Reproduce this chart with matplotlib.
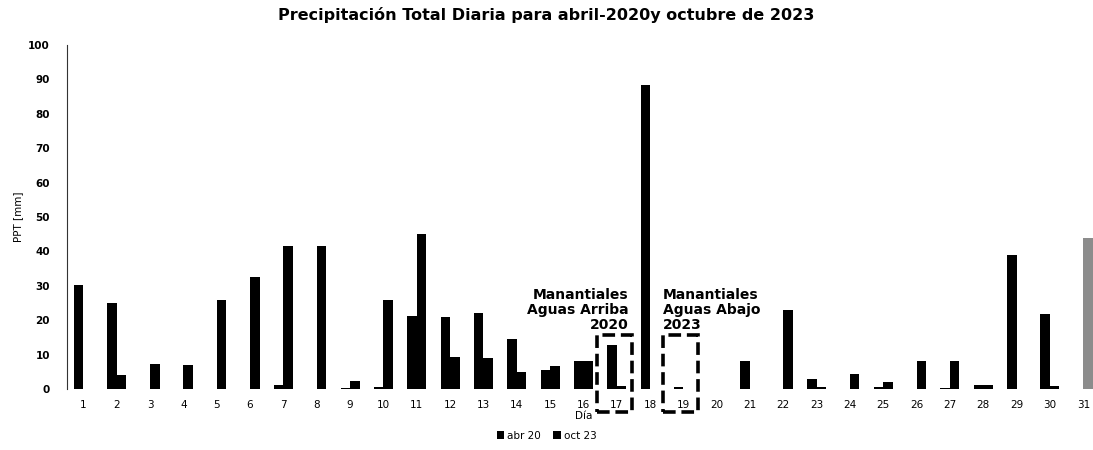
import matplotlib.pyplot as plt
from matplotlib.patches import Rectangle
import numpy as np

# Precipitación diaria (mm), días 1-31
dias = list(range(1, 32))
abr_20 = [30.1, 25.1, 0, 0, 0, 0, 1.1, 0, 0.4, 0.5,
          21.2, 20.9, 22.1, 14.4, 5.5, 8.1, 12.9, 88.5, 0.5, 0,
          8.1, 0, 2.9, 0, 0.7, 0, 0.3, 1.1, 38.9, 21.9, 0]
oct_23 = [0, 4.2, 7.3, 7.0, 25.9, 32.6, 41.5, 41.5, 2.3, 25.9,
          45.0, 9.2, 9.0, 5.0, 6.8, 8.1, 0.8, 0, 0, 0,
          0, 22.9, 0.7, 4.3, 2.1, 8.0, 8.0, 1.1, 0, 1.0, 44.0]
series = ['abr 20', 'oct 23']
yticks = list(range(0, 101, 10))

fig = plt.figure(figsize=(10.93, 4.5), dpi=100)
ax = fig.add_axes([0.061, 0.1356, 0.9454, 0.7644])

x = np.array(dias)
w = 0.285
ax.bar(x - w / 2, abr_20, w, color='black', label=series[0])
colores_oct = ['black'] * 30 + ['#8c8c8c']
ax.bar(x + w / 2, oct_23, w, color=colores_oct, label=series[1])

ax.set_xlim(0.5, 31.5)
ax.set_ylim(0, 100)
ax.set_xticks(dias)
ax.set_xticklabels([str(d) for d in dias], fontsize=7.5)
ax.set_yticks(yticks)
ax.set_yticklabels([str(t) for t in yticks], fontsize=7.5, fontweight='bold')
ax.tick_params(axis='both', length=0)
ax.tick_params(axis='y', pad=12)
ax.tick_params(axis='x', pad=8)

for s in ['top', 'right', 'bottom']:
    ax.spines[s].set_visible(False)
ax.spines['left'].set_color('#333333')
ax.spines['left'].set_linewidth(0.8)

ax.set_ylabel('PPT [mm]', fontsize=7.5, labelpad=4)
ax.set_xlabel('Día', fontsize=7.5, labelpad=1)

fig.suptitle('Precipitación Total Diaria para abril-2020y octubre de 2023',
             fontsize=11.5, fontweight='bold', y=0.985)

# recuadros punteados de los manantiales
for x0 in [16.40, 18.38]:
    ax.add_patch(Rectangle((x0, -6.7), 1.05, 22.4, fill=False,
                           edgecolor='black', linewidth=2.6,
                           linestyle=(0, (3.5, 1.6)), clip_on=False))

ax.text(17.36, 29.5, 'Manantiales\nAguas Arriba\n2020', ha='right', va='top',
        fontsize=10, fontweight='bold', linespacing=1.1)
ax.text(18.38, 29.5, 'Manantiales\nAguas Abajo\n2023', ha='left', va='top',
        fontsize=10, fontweight='bold', linespacing=1.1)

fig.legend(loc='lower center', bbox_to_anchor=(0.5, 0.0), ncol=2,
           frameon=False, fontsize=7.5, handlelength=0.7, handleheight=0.7,
           handletextpad=0.3, columnspacing=1.2)

fig.savefig('out.png', dpi=100)
